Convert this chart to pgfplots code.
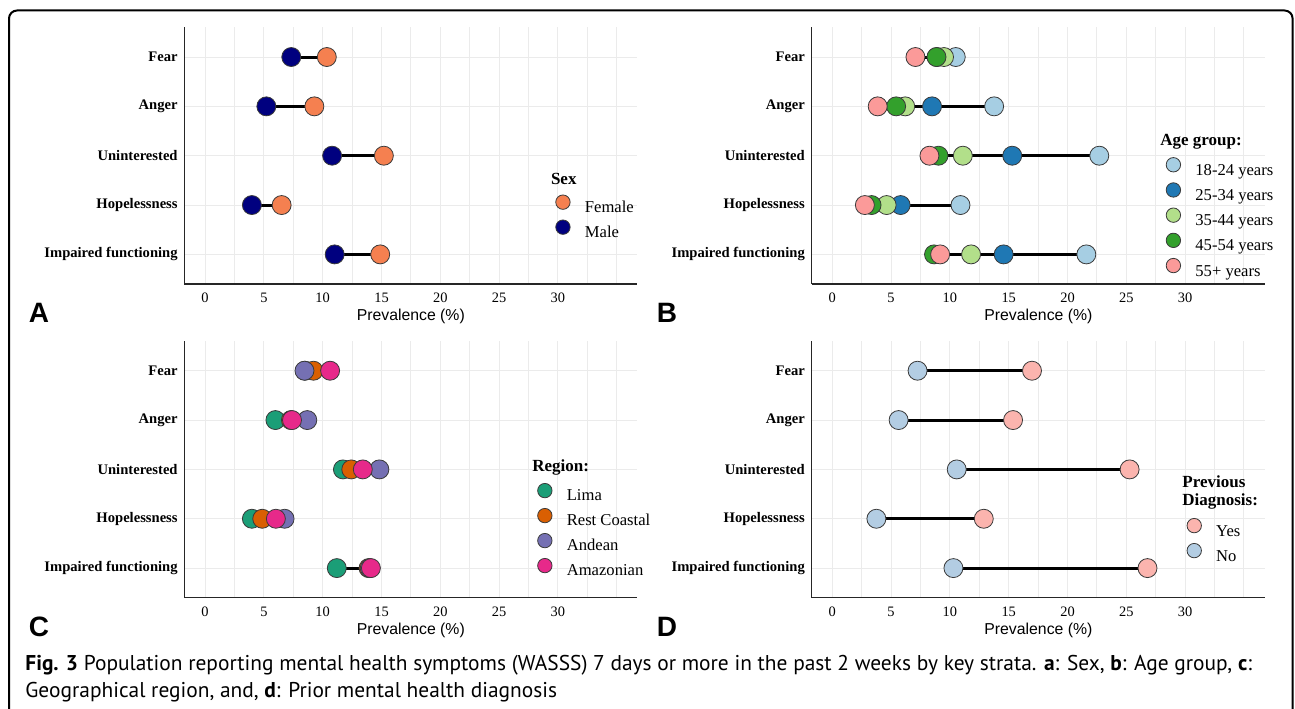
\documentclass[border=0pt]{standalone}
\usepackage{fontspec}
\setmainfont{Liberation Serif}
\newfontfamily\sansf{Liberation Sans}
\newfontfamily\capf{PT Sans}
\usepackage{pgfplots}
\pgfplotsset{compat=1.18}
\usepackage{pgfplotstable}

\definecolor{female}{HTML}{F58050}
\definecolor{male}{HTML}{00007F}
\definecolor{ageA}{HTML}{A6CEE3}
\definecolor{ageB}{HTML}{1F78B4}
\definecolor{ageC}{HTML}{B2DF8A}
\definecolor{ageD}{HTML}{33A02C}
\definecolor{ageE}{HTML}{FB9A99}
\definecolor{lima}{HTML}{1B9E77}
\definecolor{coast}{HTML}{D95F02}
\definecolor{andean}{HTML}{7570B3}
\definecolor{amaz}{HTML}{E7298A}
\definecolor{yes}{HTML}{FBB4AE}
\definecolor{no}{HTML}{B3CDE3}
\definecolor{gridc}{HTML}{EBEBEB}
\definecolor{edge}{HTML}{3A3A3A}

% y: 5 = Fear ... 1 = Impaired functioning
\pgfplotstableread{
y female male
5 10.35 7.33
4 9.29 5.21
3 15.20 10.80
2 6.51 3.98
1 14.89 11.02
}\sexdata

\pgfplotstableread{
y a1824 a2534 a3544 a4554 a55
5 10.50 8.90 9.50 8.86 7.07
4 13.76 8.48 6.20 5.43 3.86
3 22.70 15.30 11.10 9.03 8.26
2 10.90 5.81 4.62 3.34 2.77
1 21.60 14.57 11.80 8.65 9.17
}\agedata

\pgfplotstableread{
y lima coast andean amaz
5 8.50 9.22 8.45 10.63
4 5.98 7.30 8.69 7.39
3 11.72 12.43 14.82 13.41
2 3.98 4.86 6.76 6.02
1 11.20 13.90 14.00 14.10
}\regdata

\pgfplotstableread{
y yes no
5 16.98 7.25
4 15.37 5.64
3 25.28 10.58
2 12.88 3.75
1 26.80 10.30
}\diagdata

\pgfplotsset{
  panel/.style={
    scale only axis, width=226.4pt, height=128.3pt,
    xmin=-1.75, xmax=36.75, ymin=0.4, ymax=5.6,
    xtick={0,5,...,30}, minor xtick={2.5,7.5,...,32.5,35},
    ytick={1,2,3,4,5},
    yticklabels={Impaired functioning,Hopelessness,Uninterested,Anger,Fear},
    grid=both,
    major grid style={gridc, line width=0.5pt},
    minor grid style={gridc, line width=0.5pt},
    axis x line*=bottom, axis y line*=left,
    axis line style={-, black!85, line width=0.6pt},
    major tick length=0pt, minor tick length=0pt,
    tick style={draw=none},
    /pgf/number format/assume math mode=true,
    xticklabel style={font=\fontsize{7.2}{8}\selectfont, anchor=center, inner sep=0pt, yshift=-7pt},
    yticklabel style={font=\fontsize{7.3}{8}\selectfont\bfseries, anchor=east, inner sep=0pt, xshift=-3.25pt},
    clip=false,
    legend cell align=left,
    legend image code/.code={\draw[##1, mark size=3.6pt] plot coordinates {(3.6pt,2.6pt)};},
    legend style={draw=none, fill=none, inner sep=0pt, column sep=7.4pt, row sep=0pt,
      anchor=west, font=\fontsize{8.3}{9}\selectfont,
      nodes={inner sep=0pt, text height=8.85pt, text depth=3.65pt}},
  },
  seg/.style={black, line width=1.5pt, unbounded coords=jump, forget plot},
  dot/.style={only marks, mark=*, mark size=4.75pt, mark options={fill=#1, draw=edge, line width=0.4pt}},
}

\begin{document}
\begin{tikzpicture}
% A: sex
\begin{axis}[panel, at={(92.25pt,212pt)}, anchor=south west, legend style={at={(0.819,0.250)}}]
\addplot[seg] coordinates {(7.33,5) (10.35,5) (nan,nan) (5.21,4) (9.29,4) (nan,nan) (10.80,3) (15.20,3) (nan,nan) (3.98,2) (6.51,2) (nan,nan) (11.02,1) (14.89,1)};
\addplot[dot=female] table[x=female, y=y] {\sexdata};
\addlegendentry{Female}
\addplot[dot=male] table[x=male, y=y] {\sexdata};
\addlegendentry{Male}
\end{axis}
% B: age group
\begin{axis}[panel, at={(405.85pt,212pt)}, anchor=south west, legend style={at={(0.782,0.248)}, nodes={text height=8.95pt, text depth=3.65pt}}]
\addplot[seg] coordinates {(7.07,5) (10.50,5) (nan,nan) (3.86,4) (13.76,4) (nan,nan) (8.26,3) (22.70,3) (nan,nan) (2.77,2) (10.90,2) (nan,nan) (8.65,1) (21.60,1)};
\addplot[dot=ageA] table[x=a1824, y=y] {\agedata};
\addlegendentry{18-24 years}
\addplot[dot=ageB] table[x=a2534, y=y] {\agedata};
\addlegendentry{25-34 years}
\addplot[dot=ageC] table[x=a3544, y=y] {\agedata};
\addlegendentry{35-44 years}
\addplot[dot=ageD] table[x=a4554, y=y] {\agedata};
\addlegendentry{45-54 years}
\addplot[dot=ageE] table[x=a55, y=y] {\agedata};
\addlegendentry{55+ years}
\end{axis}
% C: region
\begin{axis}[panel, at={(92.25pt,55.15pt)}, anchor=south west, legend style={at={(0.779,0.251)}}]
\addplot[seg] coordinates {(8.45,5) (10.63,5) (nan,nan) (5.98,4) (8.69,4) (nan,nan) (11.72,3) (14.82,3) (nan,nan) (3.98,2) (6.76,2) (nan,nan) (11.20,1) (14.10,1)};
\addplot[dot=lima] table[x=lima, y=y] {\regdata};
\addlegendentry{Lima}
\addplot[dot=coast] table[x=coast, y=y] {\regdata};
\addlegendentry{Rest Coastal}
\addplot[dot=andean] table[x=andean, y=y] {\regdata};
\addlegendentry{Andean}
\addplot[dot=amaz] table[x=amaz, y=y] {\regdata};
\addlegendentry{Amazonian}
\end{axis}
% D: previous diagnosis
\begin{axis}[panel, at={(405.85pt,55.15pt)}, anchor=south west, legend style={at={(0.828,0.212)}}]
\addplot[seg] coordinates {(7.25,5) (16.98,5) (nan,nan) (5.64,4) (15.37,4) (nan,nan) (10.58,3) (25.28,3) (nan,nan) (3.75,2) (12.88,2) (nan,nan) (10.30,1) (26.80,1)};
\addplot[dot=yes] table[x=yes, y=y] {\diagdata};
\addlegendentry{Yes}
\addplot[dot=no] table[x=no, y=y] {\diagdata};
\addlegendentry{No}
\end{axis}

% legend titles
\begin{scope}[every node/.style={anchor=west, inner sep=0pt, font=\fontsize{8.5}{9.35}\selectfont\bfseries}]
\node at (275.3pt,264.5pt) {Sex};
\node at (580pt,283.15pt) {Age group:};
\node at (266pt,120.15pt) {Region:};
\node[align=left] at (591pt,107.8pt) {Previous\\Diagnosis:};
\end{scope}

% axis titles and panel letters
\begin{scope}[every node/.style={inner sep=0pt, font=\sansf\fontsize{7.9}{9}\selectfont}]
\node at (205.4pt,196pt) {Prevalence (\%)};
\node at (519.2pt,196pt) {Prevalence (\%)};
\node at (205.4pt,38.65pt) {Prevalence (\%)};
\node at (519.2pt,38.65pt) {Prevalence (\%)};
\end{scope}
\begin{scope}[every node/.style={inner sep=0pt, font=\sansf\fontsize{14}{14}\selectfont\bfseries}]
\node at (19.5pt,197.5pt) {A};
\node at (333.5pt,197.5pt) {B};
\node at (19.5pt,40.5pt) {C};
\node at (333.5pt,40.5pt) {D};
\end{scope}

% caption
\begin{scope}[every node/.style={anchor=base west, inner sep=0pt, font=\capf\fontsize{10.7}{13}\selectfont}]
\node at (12.5pt,18.6pt) {\textbf{Fig. 3} Population reporting mental health symptoms (WASSS) 7 days or more in the past 2 weeks by key strata. \textbf{a}: Sex, \textbf{b}: Age group, \textbf{c}:};
\node at (12.5pt,5.4pt) {Geographical region, and, \textbf{d}: Prior mental health diagnosis};
\end{scope}

% frame
\draw[line width=1pt, rounded corners=4pt] (4.5pt,-3pt) -- (4.5pt,348.75pt) -- (646.3pt,348.75pt) -- (646.3pt,-3pt);

\pgfresetboundingbox
\path (0pt,0pt) rectangle (647.5pt,354pt);
\end{tikzpicture}
\end{document}
